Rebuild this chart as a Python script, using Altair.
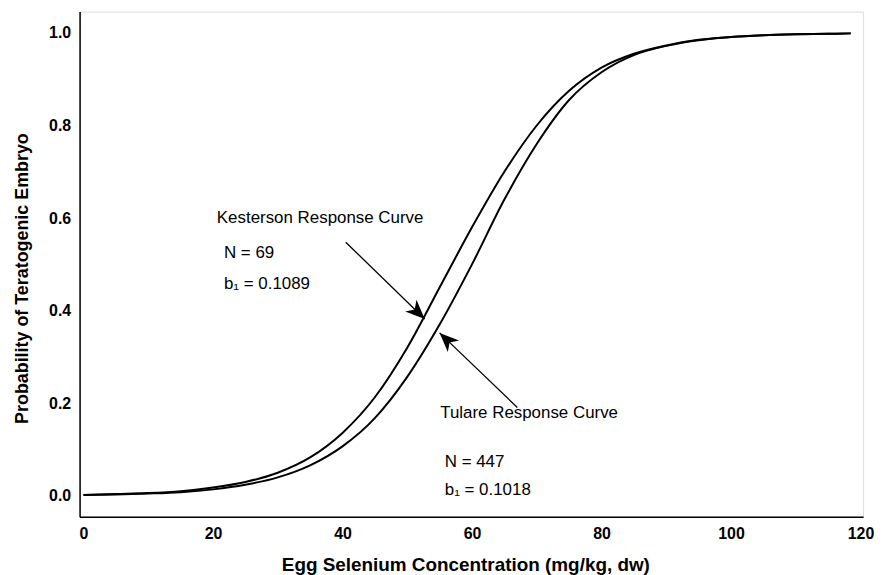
import altair as alt
import pandas as pd

# Egg selenium concentration (mg/kg, dw) sample points
conc = [0, 5, 10, 15, 20, 25, 30, 35, 40, 45, 50, 55, 60, 65, 70, 75, 80,
        85, 90, 95, 100, 105, 110, 115, 118.5]
# Probability of teratogenic embryo
kesterson = [0.002, 0.004, 0.006, 0.010, 0.018, 0.030, 0.050, 0.083, 0.136,
             0.213, 0.320, 0.450, 0.580, 0.700, 0.800, 0.875, 0.925, 0.955,
             0.973, 0.985, 0.991, 0.995, 0.997, 0.998, 0.999]
tulare = [0.002, 0.003, 0.005, 0.008, 0.014, 0.024, 0.040, 0.066, 0.107,
          0.168, 0.257, 0.370, 0.500, 0.640, 0.760, 0.855, 0.915, 0.952,
          0.972, 0.984, 0.991, 0.995, 0.997, 0.998, 0.999]

# annotation texts and their anchor positions (data units)
label_text = ["Kesterson Response Curve", "N = 69", "b\u2081 = 0.1089",
              "Tulare Response Curve", "N = 447", "b\u2081 = 0.1018"]
label_x = [20.6, 21.7, 21.7, 55.1, 55.8, 55.8]
label_y = [0.601, 0.524, 0.458, 0.180, 0.073, 0.013]

# arrows: start -> tip
arrow_x = [40.5, 67.0]
arrow_y = [0.548, 0.191]
arrow_x2 = [52.7, 55.0]
arrow_y2 = [0.382, 0.352]
arrow_angle = [134, 314]

rows = []
for name, vals in (("Kesterson", kesterson), ("Tulare", tulare)):
    for c, v in zip(conc, vals):
        rows.append({"series": name, "conc": c, "prob": v})
df = pd.DataFrame(rows)

lab = pd.DataFrame({"text": label_text, "x": label_x, "y": label_y})
arr = pd.DataFrame({"x": arrow_x, "y": arrow_y, "x2": arrow_x2,
                    "y2": arrow_y2, "angle": arrow_angle})

FONT = "Liberation Sans"
xscale = alt.Scale(domain=[-0.6, 120.4], nice=False, zero=False)
yscale = alt.Scale(domain=[-0.045, 1.046], nice=False, zero=False)

xaxis = alt.Axis(values=[0, 20, 40, 60, 80, 100, 120], format="d",
                 title="Egg Selenium Concentration (mg/kg, dw)",
                 grid=False, ticks=False, labelPadding=9,
                 labelFont=FONT, labelFontSize=16, labelFontWeight="bold",
                 labelColor="black", titleFont=FONT, titleFontSize=19,
                 titleFontWeight="bold", titleColor="black",
                 domainColor="black", domainWidth=1.5,
                 titleX=388, titleY=48, titleBaseline="middle",
                 titleAlign="center")
yaxis = alt.Axis(values=[0, 0.2, 0.4, 0.6, 0.8, 1.0], format=".1f",
                 title="Probability of Teratogenic Embryo",
                 grid=False, ticks=False, labelPadding=9,
                 labelFont=FONT, labelFontSize=16, labelFontWeight="bold",
                 labelColor="black", titleFont=FONT, titleFontSize=18,
                 titleFontWeight="bold", titleColor="black",
                 domainColor="black", domainWidth=1.5,
                 titleX=-57, titleY=268, titleBaseline="middle",
                 titleAlign="center", titleAngle=270)

lines = alt.Chart(df).mark_line(color="black", strokeWidth=2,
                                interpolate="monotone").encode(
    x=alt.X("conc:Q", scale=xscale, axis=xaxis),
    y=alt.Y("prob:Q", scale=yscale, axis=yaxis),
    detail="series:N",
)

texts = alt.Chart(lab).mark_text(align="left", baseline="middle", font=FONT,
                                 fontSize=17, color="black").encode(
    x=alt.X("x:Q", scale=xscale),
    y=alt.Y("y:Q", scale=yscale),
    text="text:N",
)

shafts = alt.Chart(arr).mark_rule(color="black", strokeWidth=1.3).encode(
    x=alt.X("x:Q", scale=xscale),
    y=alt.Y("y:Q", scale=yscale),
    x2="x2:Q",
    y2="y2:Q",
)

heads = alt.Chart(arr).mark_point(
    shape="M0,0 L0.42,1 L0,0.72 L-0.42,1 Z",
    filled=True, color="black", opacity=1, size=1500, strokeWidth=0,
).encode(
    x=alt.X("x2:Q", scale=xscale),
    y=alt.Y("y2:Q", scale=yscale),
    angle=alt.Angle("angle:Q", scale=None),
)

chart = alt.layer(lines, shafts, heads, texts).properties(
    width=788, height=508,
    autosize="none",
    padding={"left": 72, "top": 2, "right": 12, "bottom": 57},
).configure_view(stroke=None).configure(background="white")

chart.save("out.html", embed_options={"renderer": "svg", "actions": False})
